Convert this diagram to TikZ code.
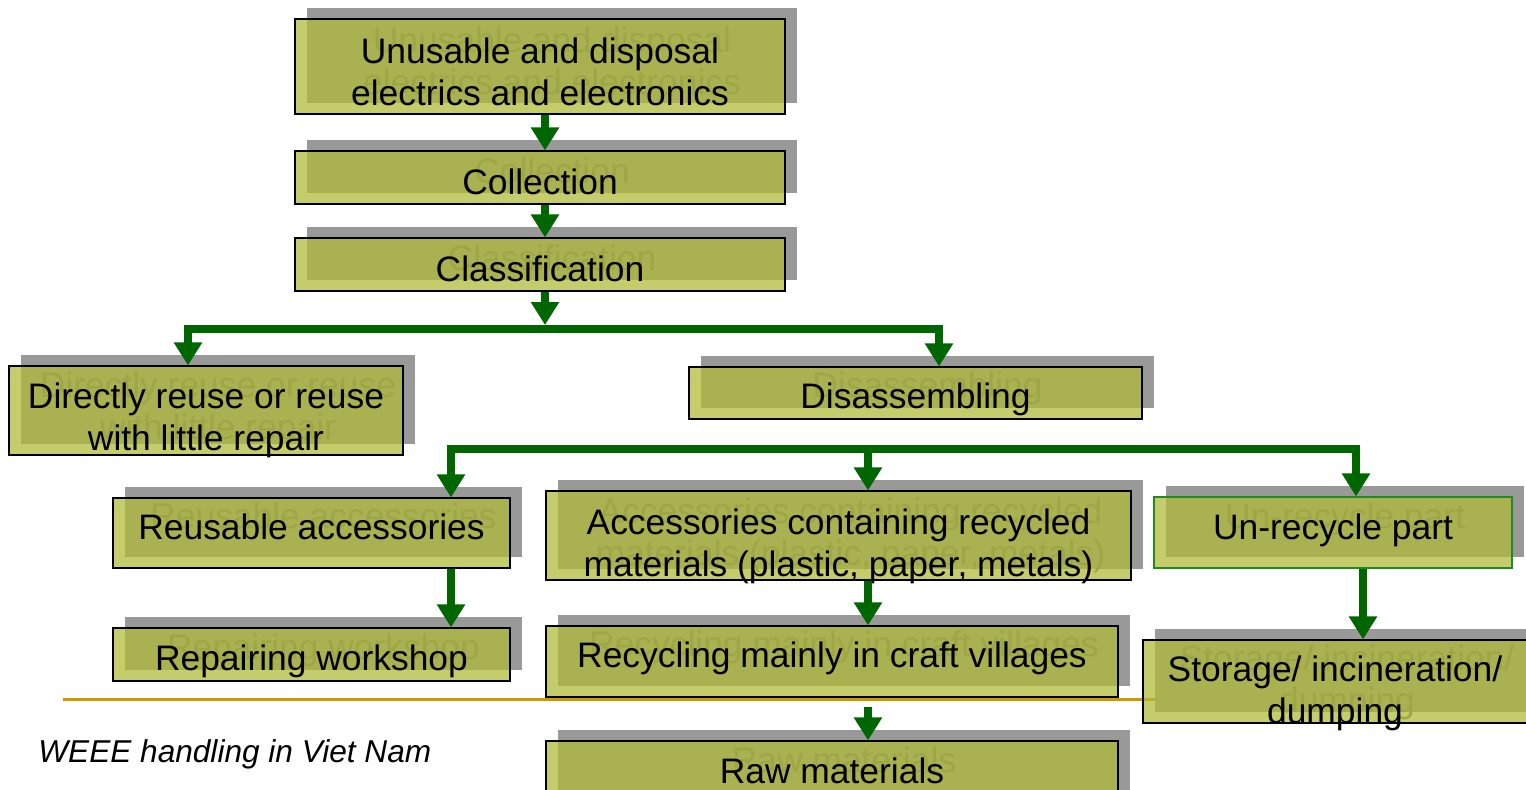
\documentclass[tikz,border=0pt]{standalone}
\usepackage{fontspec}
\setmainfont{Liberation Sans}
\usetikzlibrary{arrows.meta,calc}
\definecolor{boxolive}{RGB}{175,186,55}
\definecolor{shadowgray}{HTML}{999999}
\definecolor{ghostgray}{HTML}{6E6E6E}
\definecolor{flowgreen}{HTML}{006600}
\definecolor{rulegold}{HTML}{CC9900}
\definecolor{edgegreen}{HTML}{1E8C1E}

% box with grey shadow and faint echo text behind it
% [extra style]{name}{cx}{cy}{width}{height}{text y}{text}
\newcommand{\wbox}[8][]{%
  \node[shadowbox, minimum width=#5*0.5pt, minimum height=#6*0.5pt] (#2-sh) at (#3+12,#4-11) {};
  \node[ghosttext] (#2-gh) at (#3+12,#7-11) {#8};
  \node[frontbox, minimum width=#5*0.5pt, minimum height=#6*0.5pt, #1] (#2) at (#3,#4) {};
  \node[boxtext] (#2-tx) at (#3,#7) {#8};
}

\begin{document}
\begin{tikzpicture}[
    x=0.5pt, y=-0.5pt,
    shadowbox/.style={rectangle, fill=shadowgray, inner sep=0pt},
    frontbox/.style={rectangle, draw=black, line width=0.6pt, fill=boxolive, fill opacity=0.74, inner sep=0pt},
    boxtext/.style={align=center, inner sep=0pt, font=\fontsize{17.7pt}{21pt}\selectfont},
    ghosttext/.style={boxtext, text=ghostgray},
    flowarrow/.style={draw=flowgreen, line width=4pt, -{Triangle[width=13.5pt,length=11.5pt]}},
    splitbar/.style={draw=flowgreen, line width=4pt, line cap=rect},
    footrule/.style={draw=rulegold, line width=1.5pt},
    captiontext/.style={font=\fontsize{15.8pt}{19pt}\selectfont\itshape, inner sep=0pt}
]
\useasboundingbox (0,0) rectangle (1526,789);

% Gold rule under the chart
\coordinate (ruleL) at (63,699);
\coordinate (ruleR) at (1458,699);
\draw[footrule] (ruleL) -- (ruleR);

% Top chain
\wbox{unusable}{540}{66.5}{490}{95}{71.5}{Unusable and disposal\\electrics and electronics}
\wbox{collect}{540}{177.5}{490}{53}{182}{Collection}
\wbox{classif}{540}{264.5}{490}{53}{269}{Classification}

% Second level
\wbox{direct}{206}{410.5}{394}{89}{420}{Directly reuse or reuse\\with little repair}
\wbox{disas}{915.5}{393}{453}{52}{399}{Disassembling}

% Third level
\wbox{reuse}{311.5}{533}{397}{70}{527}{Reusable accessories}
\wbox{recmat}{838.5}{535.5}{585}{89}{546}{Accessories containing recycled\\materials (plastic, paper, metals)}
\wbox[draw=edgegreen]{unrec}{1333}{532.5}{358}{71}{530.7}{Un-recycle part}

% Bottom level
\wbox{repair}{311.5}{654.5}{397}{53}{661.7}{Repairing workshop}
\wbox{craft}{832}{661.5}{572}{71}{658.7}{Recycling mainly in craft villages}
\wbox{storage}{1335}{681.5}{384}{83}{693.2}{Storage/ incineration/\\dumping}
\wbox{raw}{832}{776.5}{572}{71}{771}{Raw materials}

% Arrows
\draw[flowarrow] ([xshift=2.5pt]unusable.south) -- ([xshift=2.5pt]collect.north);
\draw[flowarrow] ([xshift=2.5pt]collect.south) -- ([xshift=2.5pt]classif.north);

% First split
\coordinate (split1) at (545,325);
\coordinate (split1L) at (188,329);
\coordinate (split1R) at (939,329);
\draw[splitbar] (split1L) -- (split1R);
\draw[flowarrow] (split1 |- classif.south) -- (split1);
\draw[flowarrow] (split1L) -- (split1L |- direct.north);
\draw[flowarrow] (split1R) -- (split1R |- disas.north);

% Second split
\coordinate (split2L) at (451,449);
\coordinate (split2M) at (868,449);
\coordinate (split2R) at (1356,449);
\draw[splitbar] (split2L) -- (split2R);
\draw[flowarrow] (split2L) -- (split2L |- reuse.north);
\draw[flowarrow] (split2M) -- (split2M |- recmat.north);
\draw[flowarrow] (split2R) -- (split2R |- unrec.north);

% Downward arrows
\coordinate (drop1) at (868,707);
\coordinate (drop2) at (1363,449);
\draw[flowarrow] (split2L |- reuse.south) -- (split2L |- repair.north);
\draw[flowarrow] (split2M |- recmat.south) -- (split2M |- craft.north);
\draw[flowarrow] (drop2 |- unrec.south) -- (drop2 |- storage.north);
\draw[flowarrow] (drop1) -- (drop1 |- raw.north);

% Caption
\node[captiontext, anchor=base west] (caption) at (38,762) {WEEE handling in Viet Nam};

\end{tikzpicture}
\end{document}
